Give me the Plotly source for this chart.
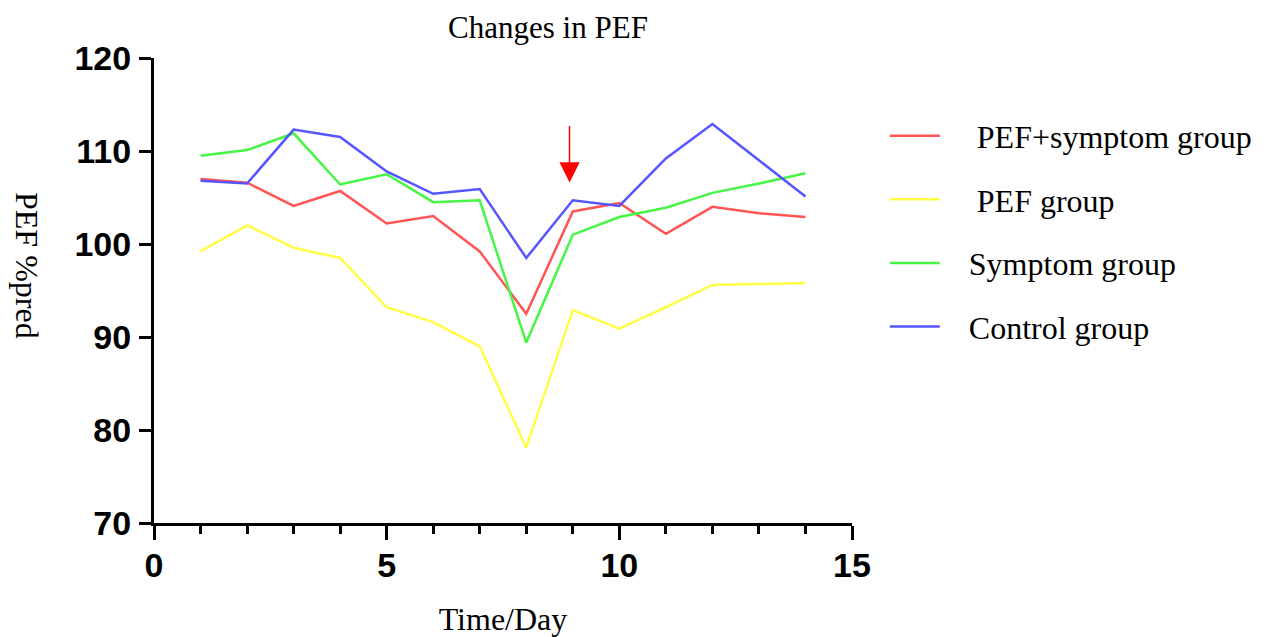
import plotly.graph_objects as go

days = list(range(1, 15))
pef_symptom = [107.0, 106.6, 104.1, 105.7, 102.2, 103.0, 99.2, 92.5, 103.5, 104.4, 101.1, 104.0, 103.3, 102.9]
pef_only = [99.2, 102.0, 99.6, 98.5, 93.2, 91.6, 89.0, 78.1, 92.9, 90.9, 93.2, 95.6, 95.7, 95.8]
symptom = [109.5, 110.1, 111.9, 106.4, 107.5, 104.5, 104.7, 89.4, 101.0, 102.9, 103.9, 105.5, 106.5, 107.6]
control = [106.8, 106.5, 112.3, 111.5, 107.8, 105.4, 105.9, 98.5, 104.7, 104.1, 109.2, 112.9, 109.0, 105.1]

series_names = ["PEF+symptom group", "PEF group", "Symptom group", "Control group"]
name_pad = [4, 4, 3, 3]
series_values = [pef_symptom, pef_only, symptom, control]
colors = ["rgb(255,85,85)", "rgb(255,255,70)", "rgb(70,245,70)", "rgb(85,85,255)"]

x_ticks = [0, 5, 10, 15]
y_ticks = [70, 80, 90, 100, 110, 120]

serif = "Liberation Serif, Times New Roman, serif"
sans = "Liberation Sans, Arial, sans-serif"

fig = go.Figure()
for i, (name, vals, col) in enumerate(zip(series_names, series_values, colors)):
    fig.add_trace(go.Scatter(x=days, y=vals, mode="lines",
                             name="\u00a0" * name_pad[i] + name,
                             legendgroup=f"g{i}",
                             line=dict(color=col, width=2.5)))

W, H = 1264, 629
title_size = 31
fig.update_layout(
    width=W, height=H,
    margin=dict(l=146, r=420, t=50, b=114),
    paper_bgcolor="white", plot_bgcolor="white",
    title=dict(text="Changes in PEF", x=540/W, xanchor="center", xref="container",
               y=1-19/H, yanchor="middle", yref="container",
               font=dict(family=serif, size=title_size, color="black")),
    showlegend=True,
    legend=dict(x=1.047, xanchor="left", y=0.8915, yanchor="top",
                font=dict(family=serif, size=32, color="black"),
                tracegroupgap=19, itemwidth=50, bgcolor="rgba(0,0,0,0)"),
)

fig.update_xaxes(range=[0, 15], tickvals=x_ticks, ticks="outside", ticklen=14, tickwidth=3,
                 tickcolor="black", showline=True, linewidth=3, linecolor="black",
                 showgrid=False, zeroline=False, automargin=False, ticklabelstandoff=-4,
                 minor=dict(dtick=1, tick0=0, ticks="outside", ticklen=8, tickwidth=3, tickcolor="black", showgrid=False),
                 tickfont=dict(family=sans, size=34, color="black", weight="bold"),
                 title=dict(text="Time/Day", font=dict(family=serif, size=32, color="black"), standoff=26))
fig.update_yaxes(range=[70, 120], tickvals=y_ticks, ticks="outside", ticklen=12, tickwidth=3,
                 tickcolor="black", showline=True, linewidth=3, linecolor="black",
                 showgrid=False, zeroline=False, ticklabelstandoff=1, automargin=False,
                 tickfont=dict(family=sans, size=34, color="black", weight="bold"))

fig.add_annotation(text="PEF %pred", textangle=90, xref="paper", yref="paper",
                   x=-127/698, y=1-(265-58)/465, xanchor="center", yanchor="middle",
                   showarrow=False,
                   font=dict(family=serif, size=32, color="black"))

fig.add_annotation(x=8.93, y=106.6, xref="x", yref="y", ax=0, ay=-58, text="",
                   showarrow=True, arrowhead=2, arrowsize=2.7, arrowwidth=1.5, arrowcolor="red")

fig.write_html("out.html")
